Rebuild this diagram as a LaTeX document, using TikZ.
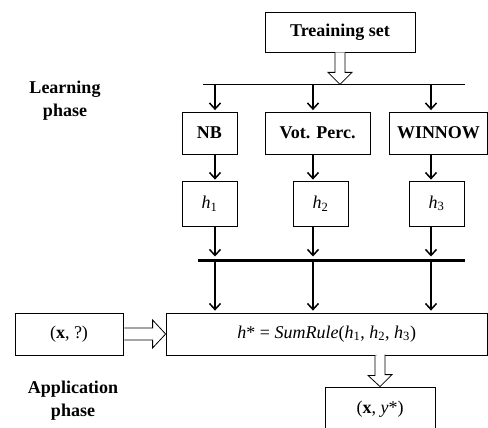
\documentclass[tikz,border=0pt]{standalone}
\usepackage{fontspec}
\setmainfont{Liberation Serif}
\usetikzlibrary{positioning,calc,arrows.meta}
\tikzset{dbox/.style={draw, line width=0.8pt, inner sep=0pt, fill=white, align=center, font=\fontsize{18}{21}\selectfont}}
\tikzset{dboxb/.style={dbox, font=\fontsize{18}{21}\selectfont\bfseries}}
\tikzset{arr/.style={draw, line width=1.5pt, -{Straight Barb[length=6pt,width=11pt,line width=1.5pt]}}}
\tikzset{hollow/.style={draw, line width=0.8pt, fill=white, line join=miter}}
\tikzset{phase/.style={align=center, font=\fontsize{18}{23}\selectfont\bfseries}}
\begin{document}
\begin{tikzpicture}[x=1pt, y=-1pt]
                \useasboundingbox (0,0) rectangle (488,428);
                % columns
                \coordinate (c1) at (215,0);
                \coordinate (c2) at (313,0);
                \coordinate (c3) at (431,0);
                %
                \node[dboxb, minimum width=150pt, minimum height=40pt] (train) at (340,32) {Treaining set};
                \node[dboxb, minimum width=55pt, minimum height=42pt] (nb) at (209.5,133) {NB};
                \node[dboxb, minimum width=105pt, minimum height=42pt] (vot) at (317.5,133) {Vot. Perc.};
                \node[dboxb, minimum width=98pt, minimum height=42pt] (win) at (438.5,133) {WINNOW};
                \node[dbox, minimum width=55pt, minimum height=45pt] (h1) at (209.5,203.5) {\textit{h}\textsubscript{1}};
                \node[dbox, minimum width=55pt, minimum height=45pt] (h2) at (320.5,203.5) {\textit{h}\textsubscript{2}};
                \node[dbox, minimum width=55pt, minimum height=45pt] (h3) at (436.5,203.5) {\textit{h}\textsubscript{3}};
                \node[dbox, minimum width=321.5pt, minimum height=42pt] (sum) at (326.75,334)
                    {\textit{h}* = \textit{SumRule}(\textit{h}\textsubscript{1}, \textit{h}\textsubscript{2}, \textit{h}\textsubscript{3})};
                \node[dbox, minimum width=108pt, minimum height=42pt] (xq) at (69,334) {(\textbf{x}, ?)};
                \node[dbox, minimum width=110pt, minimum height=45pt] (out) at (380,409.5) {(\textbf{x}, \textit{y}*)};
                %
                \node[phase] (learn) at (65,101) {Learning\\phase};
                \node[phase] (appl) at (73,401) {Application\\phase};
                %
                \coordinate (barA) at (203,84);
                \coordinate (barB) at (465,84);
                \coordinate (barC) at (198,260.5);
                \coordinate (barD) at (465,260.5);
                \draw[line width=0.9pt] (barA) -- (barB);
                \draw[line width=2.5pt] (barC) -- (barD);
                %
                \draw[hollow] ($(train.south)+(-5,0)$) -- ++(0,20) -- ++(-7,0)
                    -- ($(train.south)+(0,32)$) -- ++(12,-12) -- ++(-7,0) -- ++(0,-20);
                \draw[hollow] ($(xq.east)+(1,-6)$) -- ($(sum.west)+(-13,-6)$) -- ($(sum.west)+(-13,-14)$)
                    -- (sum.west) -- ($(sum.west)+(-13,14)$) -- ($(sum.west)+(-13,6)$) -- ($(xq.east)+(1,6)$);
                \draw[hollow] ($(sum.south -| out.north)+(-5,0)$) -- ++(0,20) -- ++(-7,0)
                    -- (out.north) -- ++(12,-12) -- ++(-7,0) -- ++(0,-20);
                %
                \draw[arr, shorten >=1.5pt] (barA -| c1) -- (nb.north -| c1);
                \draw[arr, shorten >=1.5pt] (barA -| c2) -- (vot.north -| c2);
                \draw[arr, shorten >=1.5pt] (barA -| c3) -- (win.north -| c3);
                \draw[arr, shorten >=1pt] (nb.south -| c1) -- (h1.north -| c1);
                \draw[arr, shorten >=1pt] (vot.south -| c2) -- (h2.north -| c2);
                \draw[arr, shorten >=1pt] (win.south -| c3) -- (h3.north -| c3);
                \draw[arr, shorten >=4pt] (h1.south -| c1) -- (barC -| c1);
                \draw[arr, shorten >=4pt] (h2.south -| c2) -- (barC -| c2);
                \draw[arr, shorten >=4pt] (h3.south -| c3) -- (barC -| c3);
                \draw[arr, shorten >=2pt] (barC -| c1) -- (sum.north -| c1);
                \draw[arr, shorten >=2pt] (barC -| c2) -- (sum.north -| c2);
                \draw[arr, shorten >=2pt] (barC -| c3) -- (sum.north -| c3);
                %
            \end{tikzpicture}
\end{document}
